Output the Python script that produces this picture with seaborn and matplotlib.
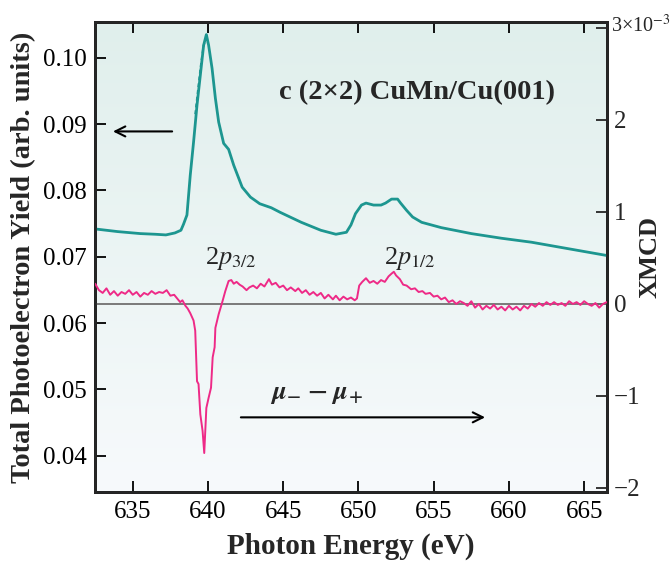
import numpy as np
import pandas as pd
import seaborn as sns
import matplotlib.pyplot as plt

## Data
# total photoelectron yield (left axis)
tey_energy = [632.5, 634.0, 635.5, 636.5, 637.2, 637.8, 638.2, 638.37, 638.6, 638.82, 639.04,
              639.27, 639.49, 639.71, 639.89, 640.04, 640.27, 640.49, 640.71, 641.04, 641.37,
              641.71, 642.27, 642.82, 643.44, 644.2, 644.8, 646.2, 647.5, 648.5, 649.2, 649.5,
              649.8, 650.2, 650.5, 651.0, 651.5, 651.8, 652.2, 652.6, 652.8, 653.2, 653.6,
              654.2, 655.5, 657.5, 659.5, 661.5, 663.5, 666.5]
tey_yield = [0.0742, 0.0738, 0.0735, 0.0734, 0.0733, 0.0736, 0.0740, 0.0749, 0.0763, 0.0823, 0.0873,
             0.0929, 0.0974, 0.1019, 0.1035, 0.1019, 0.0984, 0.0939, 0.0903, 0.0871, 0.0862,
             0.0838, 0.0805, 0.0790, 0.0780, 0.0774, 0.0767, 0.0752, 0.0740, 0.0734, 0.0737, 0.0748,
             0.0765, 0.0778, 0.0781, 0.0778, 0.0778, 0.0781, 0.0787, 0.0787, 0.0781, 0.0770, 0.0760,
             0.0752, 0.0744, 0.0735, 0.0728, 0.0722, 0.0714, 0.0702]
# second (dashed) spectrum, only visible near the L3 peak
tey2_energy = [639.15, 639.3, 639.5, 639.7, 639.88, 640.0]
tey2_yield = [0.0915, 0.0945, 0.0985, 0.1018, 0.1030, 0.1022]

# XMCD (right axis, units of 1e-3)
xmcd_energy = [632.5, 632.75, 633.0, 633.25, 633.5, 633.75, 634.0, 634.25, 634.5, 634.75, 635.0,
               635.25, 635.5, 635.75, 636.0, 636.25, 636.5, 636.75, 637.0, 637.25, 637.5, 637.75,
               638.0, 638.15, 638.3, 638.5, 638.65, 638.82, 639.04, 639.15, 639.27, 639.37, 639.49,
               639.64, 639.75, 639.89, 640.04, 640.2, 640.31, 640.44, 640.49, 640.71, 640.93, 641.15,
               641.37, 641.55, 641.71, 641.9, 642.1, 642.3, 642.56, 642.75, 643.0, 643.25, 643.5,
               643.75, 644.05, 644.25, 644.5, 644.75, 645.0, 645.25, 645.5, 645.8, 646.0, 646.25,
               646.5, 646.75, 647.0, 647.25, 647.5, 647.75, 648.0, 648.3, 648.5, 648.75, 649.0,
               649.25, 649.5, 649.75, 649.9, 650.05, 650.25, 650.5, 650.75, 651.0, 651.25, 651.5,
               651.75, 652.0, 652.2, 652.35, 652.5, 652.75, 652.97, 653.2, 653.5, 653.75, 654.0,
               654.25, 654.46, 654.75, 655.0, 655.25, 655.5, 655.75, 656.0, 656.25, 656.5, 656.75,
               657.0, 657.25, 657.5, 657.75, 658.0, 658.25, 658.5, 658.75, 659.0, 659.25, 659.5,
               659.75, 660.0, 660.25, 660.5, 660.75, 661.0, 661.25, 661.5, 661.75, 662.0, 662.25,
               662.5, 662.75, 663.0, 663.25, 663.5, 663.75, 664.0, 664.25, 664.5, 664.75, 665.0,
               665.25, 665.5, 665.75, 666.0, 666.25, 666.5]
xmcd_value = [0.22, 0.15, 0.12, 0.17, 0.10, 0.14, 0.09, 0.13, 0.11, 0.15, 0.10,
              0.13, 0.08, 0.12, 0.10, 0.14, 0.11, 0.13, 0.12, 0.15, 0.09, 0.10,
              0.05, 0.02, 0.04, -0.02, -0.05, -0.10, -0.18, -0.29, -0.84, -0.87, -1.20,
              -1.38, -1.62, -1.13, -1.02, -0.91, -0.58, -0.47, -0.26, -0.11, 0.01, 0.14,
              0.25, 0.26, 0.22, 0.24, 0.21, 0.19, 0.15, 0.18, 0.20, 0.17, 0.22,
              0.19, 0.27, 0.21, 0.23, 0.18, 0.20, 0.15, 0.18, 0.14, 0.17, 0.12,
              0.15, 0.10, 0.13, 0.09, 0.12, 0.06, 0.10, 0.05, 0.09, 0.04, 0.08,
              0.05, 0.07, 0.04, 0.06, 0.20, 0.24, 0.28, 0.23, 0.25, 0.22, 0.26,
              0.24, 0.30, 0.33, 0.35, 0.31, 0.27, 0.21, 0.20, 0.16, 0.17, 0.13,
              0.14, 0.11, 0.12, 0.08, 0.09, 0.05, 0.07, 0.02, 0.04, 0.00, 0.03,
              0.01, -0.02, 0.03, -0.04, 0.00, -0.06, -0.02, -0.05, -0.01, -0.06, -0.03,
              -0.07, -0.02, -0.06, -0.03, -0.07, -0.02, -0.05, 0.00, -0.03, 0.01, -0.02,
              0.02, -0.01, 0.02, -0.01, 0.01, -0.02, 0.03, 0.00, 0.02, -0.01, 0.03,
              0.00, -0.02, 0.01, -0.04, 0.00, 0.02]

left_ticks = [0.04, 0.05, 0.06, 0.07, 0.08, 0.09, 0.10]
right_ticks = [-2, -1, 0, 1, 2, 3]
right_labels = ['\u22122', '\u22121', '0', '1', '2', '']
right_top_label = '3\u00d710$^{-3}$'
x_ticks = [635, 640, 645, 650, 655, 660, 665]

teal = '#1d9690'
pink = '#ee2a87'

sns.set_style('ticks')
plt.rcParams['font.family'] = ['Liberation Serif', 'DejaVu Serif']
plt.rcParams['mathtext.fontset'] = 'stix'

fig = plt.figure(figsize=(6.71, 5.62), dpi=100)
ax = fig.add_axes([0.1416, 0.124, 0.7626, 0.8369])

# background gradient, teal at top fading to white
grad = np.linspace(0, 1, 256).reshape(-1, 1)
top_c = np.array([224, 239, 236]) / 255
bot_c = np.array([247, 250, 252]) / 255
img = top_c * (1 - grad[..., None]) + bot_c * grad[..., None]
ax.imshow(img, extent=[0, 1, 0, 1], transform=ax.transAxes, aspect='auto', zorder=0)

tey = pd.DataFrame({'energy': tey_energy, 'yield': tey_yield})
tey2 = pd.DataFrame({'energy': tey2_energy, 'yield': tey2_yield})
sns.lineplot(data=tey, x='energy', y='yield', ax=ax, color=teal, lw=2.0, zorder=3)
sns.lineplot(data=tey2, x='energy', y='yield', ax=ax, color=teal, lw=1.4, ls=(0, (2, 1.5)), zorder=3)

ax.set_xlim(632.49, 666.5)
ax.set_ylim(0.0345, 0.1054)
ax.set_xticks(x_ticks)
ax.set_yticks(left_ticks)
ax.set_yticklabels([f'{t:.2f}' for t in left_ticks])
ax.tick_params(direction='in', length=8, width=1.3, labelsize=18, top=True, right=False,
               colors='black', pad=6)
ax.set_xlabel('Photon Energy (eV)', fontsize=21, fontweight='bold', labelpad=7)
ax.set_ylabel('Total Photoelectron Yield (arb. units)', fontsize=20.5, fontweight='bold', labelpad=5)
for s in ax.spines.values():
    s.set_linewidth(2)
    s.set_color('black')

ax2 = ax.twinx()
xm = pd.DataFrame({'energy': xmcd_energy, 'xmcd': xmcd_value})
ax2.axhline(0, color='#707070', lw=1.3, zorder=2)
sns.lineplot(data=xm, x='energy', y='xmcd', ax=ax2, color=pink, lw=1.4, zorder=3)
ax2.set_ylim(-2.047, 3.065)
ax2.set_xlim(632.49, 666.5)
ax2.set_yticks(right_ticks)
ax2.set_yticklabels(right_labels)
ax2.tick_params(direction='in', length=8, width=1.3, labelsize=18, pad=5)
ax2.set_ylabel('XMCD', fontsize=19, fontweight='bold')
ax2.yaxis.set_label_coords(1.063, 0.5)
ax2.set_xlabel('')
for s in ax2.spines.values():
    s.set_linewidth(2)
# top label of the right axis, kept inside the figure
fig.text(611 / 671, 1 - 26 / 562, right_top_label, fontsize=14.5, ha='left', va='center')

# annotations
ax.text(653.9, 0.0947, 'c (2\u00d72) CuMn/Cu(001)', fontsize=20.5, fontweight='bold',
        ha='center', va='center', zorder=4)
ax.annotate('', xy=(633.5, 0.0889), xytext=(637.8, 0.0889),
            arrowprops=dict(arrowstyle='->', lw=1.5, color='black', mutation_scale=18))
ax.annotate('', xy=(658.6, 0.0458), xytext=(642.0, 0.0458),
            arrowprops=dict(arrowstyle='->', lw=1.5, color='black', mutation_scale=18))
ax.text(647.2, 0.0492, r'$\boldsymbol{\mu}_{\mathbf{-}}\ \mathbf{-}\ \boldsymbol{\mu}_{\mathbf{+}}$',
        fontsize=19, ha='center', va='center')
ax.text(641.5, 0.0698, r'2$\mathit{p}_{3/2}$', fontsize=19, ha='center', va='center')
ax.text(653.4, 0.0698, r'2$\mathit{p}_{1/2}$', fontsize=19, ha='center', va='center')

fig.savefig('out.png', dpi=100)
